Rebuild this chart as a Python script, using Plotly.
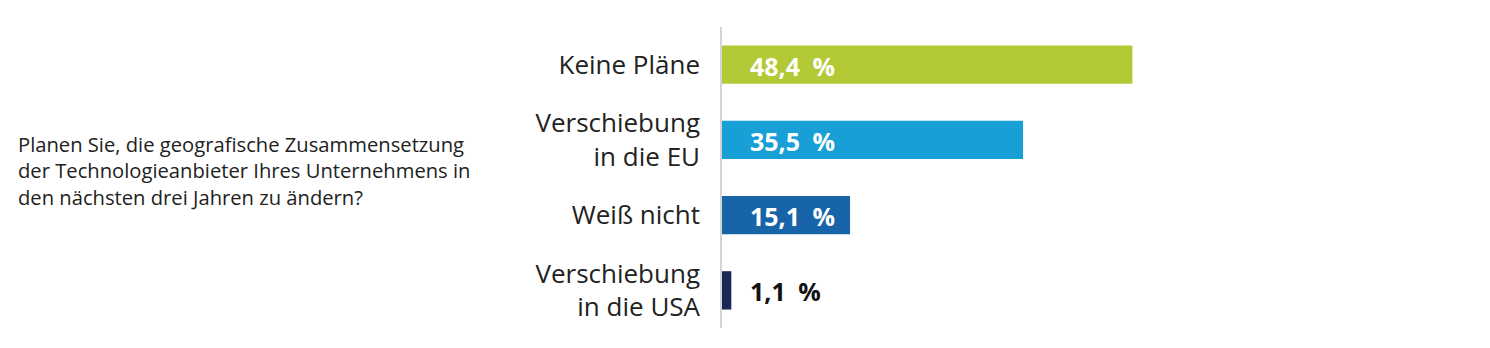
import plotly.graph_objects as go

categories = ["Keine Pläne", "Verschiebung<br>in die EU", "Weiß nicht", "Verschiebung<br>in die USA"]
values = [48.4, 35.5, 15.1, 1.1]
value_labels = ["48,4 %", "35,5 %", "15,1 %", "1,1 %"]
colors = ["#b3c936", "#189fd5", "#1764a9", "#1c2759"]
label_colors = ["white", "white", "white", "#111111"]
question = ("Planen Sie, die geografische Zusammensetzung<br>"
            "der Technologieanbieter Ihres Unternehmens in<br>"
            "den nächsten drei Jahren zu ändern?")

W, H = 1490, 348
ml, mr, mt, mb = 722, 344, 27, 20
plot_w = W - ml - mr

fig = go.Figure()
fig.add_trace(go.Bar(
    y=categories, x=values, orientation="h",
    marker=dict(color=colors, line=dict(width=0)),
    width=0.51, hoverinfo="skip",
))

for cat, lab, col in zip(categories, value_labels, label_colors):
    fig.add_annotation(
        x=0, y=cat, xref="x", yref="y", text=lab.replace(" ", "\u2002"), showarrow=False,
        xanchor="left", yanchor="middle", xshift=26, yshift=-1,
        font=dict(family="Open Sans", size=25, color=col, weight="bold"),
    )

fig.add_annotation(
    x=(16 - ml) / plot_w, y=0.5, xref="paper", yref="paper",
    text=question, showarrow=False, xanchor="left", yanchor="middle",
    align="left", yshift=7,
    font=dict(family="Open Sans", size=20.2, color="#222222"),
)

fig.update_layout(
    width=W, height=H,
    margin=dict(l=ml, r=mr, t=mt, b=mb),
    paper_bgcolor="white", plot_bgcolor="white",
    showlegend=False,
    xaxis=dict(range=[0, 50], visible=False, fixedrange=True),
    yaxis=dict(
        categoryorder="array", categoryarray=categories,
        autorange="reversed", range=[3.5, -0.5],
        showline=True, linecolor="#d4d4d4", linewidth=1.5,
        showgrid=False, zeroline=False, ticks="",
        ticklabelstandoff=15,
        tickfont=dict(family="Open Sans", size=26, color="#222222"),
    ),
)

fig.write_html("out.html")
